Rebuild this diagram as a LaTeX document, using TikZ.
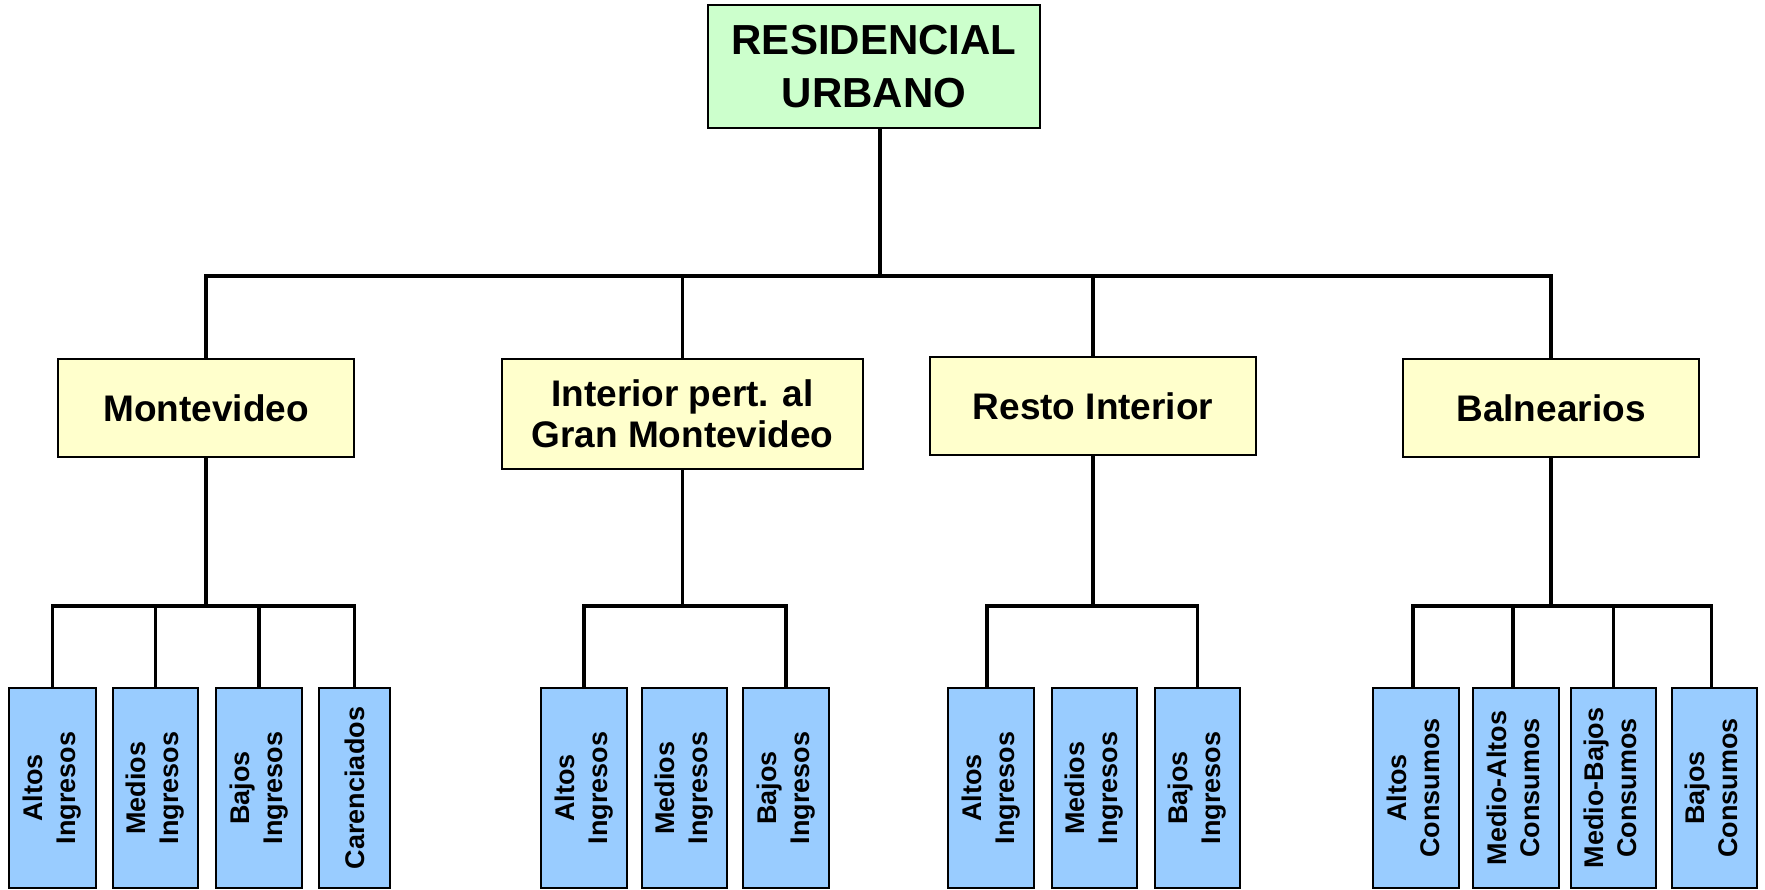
\documentclass[tikz,border=0pt]{standalone}
\usepackage{fontspec}
\setmainfont{Liberation Sans}
\usepackage{graphicx}
\definecolor{topfill}{HTML}{CCFFCC}
\definecolor{midfill}{HTML}{FFFFCC}
\definecolor{leaffill}{HTML}{99CCFF}
\tikzset{
  box/.style={draw=black, line width=2.7pt, inner sep=0pt, anchor=center},
  topbox/.style={box, fill=topfill, align=center, font={\fontsize{42}{53}\selectfont\bfseries}},
  midbox/.style={box, fill=midfill, align=center, minimum height=98pt, font={\fontsize{37}{41}\selectfont\bfseries}},
  leafbox/.style={box, fill=leaffill, minimum height=200pt, font={\fontsize{27}{33}\selectfont\bfseries}},
  conn/.style={draw=black, line width=3.6pt, line join=miter}
}
\newcommand{\leaftext}[2]{\rotatebox{90}{\begin{tabular}{@{}c@{}}#1\\#2\end{tabular}}}
\newcommand{\leafone}[1]{\rotatebox{90}{#1}}
\begin{document}
\begin{tikzpicture}[x=1pt,y=-1pt]
\useasboundingbox (0,0) rectangle (1765,890);
% top
\node[topbox, minimum width=332pt, minimum height=123pt] (top) at (874,66.5) {RESIDENCIAL\\URBANO};
% middle
\node[midbox, minimum width=296pt] (mv) at (206,408) {Montevideo};
\node[midbox, minimum width=361pt, minimum height=110pt] (igm) at (682.5,414) {Interior pert. al\\Gran Montevideo};
\node[midbox, minimum width=326pt] (ri) at (1093,406) {Resto Interior};
\node[midbox, minimum width=296pt] (bal) at (1551,408) {Balnearios};
% leaves Montevideo
\node[leafbox, minimum width=87pt] (mv1) at (52.5,788) {\leaftext{Altos}{Ingresos}};
\node[leafbox, minimum width=85pt] (mv2) at (155.5,788) {\leaftext{Medios}{Ingresos}};
\node[leafbox, minimum width=86pt] (mv3) at (259,788) {\leaftext{Bajos}{Ingresos}};
\node[leafbox, minimum width=71pt] (mv4) at (354.5,788) {\leafone{Carenciados}};
% leaves Interior GM
\node[leafbox, minimum width=86pt] (ig1) at (584,788) {\leaftext{Altos}{Ingresos}};
\node[leafbox, minimum width=85pt] (ig2) at (684.5,788) {\leaftext{Medios}{Ingresos}};
\node[leafbox, minimum width=86pt] (ig3) at (786,788) {\leaftext{Bajos}{Ingresos}};
% leaves Resto Interior
\node[leafbox, minimum width=86pt] (ri1) at (991,788) {\leaftext{Altos}{Ingresos}};
\node[leafbox, minimum width=85pt] (ri2) at (1094.5,788) {\leaftext{Medios}{Ingresos}};
\node[leafbox, minimum width=85pt] (ri3) at (1197.5,788) {\leaftext{Bajos}{Ingresos}};
% leaves Balnearios
\node[leafbox, minimum width=86pt] (ba1) at (1416,788) {\leaftext{Altos}{Consumos}};
\node[leafbox, minimum width=86pt] (ba2) at (1516,788) {\leaftext{Medio-Altos}{Consumos}};
\node[leafbox, minimum width=85pt] (ba3) at (1613.5,788) {\leaftext{Medio-Bajos}{Consumos}};
\node[leafbox, minimum width=85pt] (ba4) at (1714.5,788) {\leaftext{Bajos}{Consumos}};
% bus coordinates
\coordinate (s0) at (880,276);
\coordinate (b1) at (0,606);
% connectors level 1
\draw[conn] (s0 |- top.south) -- (s0);
\draw[conn] (mv.north) -- (mv.north |- s0) -- (bal.north |- s0) -- (bal.north);
\draw[conn] (igm.north) -- (igm.north |- s0);
\draw[conn] (ri.north) -- (ri.north |- s0);
% Montevideo group
\draw[conn] (mv.south) -- (mv.south |- b1);
\draw[conn] (mv1.north) -- (mv1.north |- b1) -- (mv4.north |- b1) -- (mv4.north);
\draw[conn] (mv2.north) -- (mv2.north |- b1);
\draw[conn] (mv3.north) -- (mv3.north |- b1);
% Interior GM group
\draw[conn] (igm.south) -- (igm.south |- b1);
\draw[conn] (ig1.north) -- (ig1.north |- b1) -- (ig3.north |- b1) -- (ig3.north);
% Resto Interior group
\draw[conn] (ri.south) -- (ri.south |- b1);
\draw[conn] ([xshift=-4pt]ri1.north) -- ([xshift=-4pt]ri1.north |- b1) -- (ri3.north |- b1) -- (ri3.north);
% Balnearios group
\draw[conn] (bal.south) -- (bal.south |- b1);
\draw[conn] ([xshift=-3pt]ba1.north) -- ([xshift=-3pt]ba1.north |- b1) -- ([xshift=-3pt]ba4.north |- b1) -- ([xshift=-3pt]ba4.north);
\draw[conn] ([xshift=-3pt]ba2.north) -- ([xshift=-3pt]ba2.north |- b1);
\draw[conn] (ba3.north) -- (ba3.north |- b1);
\end{tikzpicture}
\end{document}
